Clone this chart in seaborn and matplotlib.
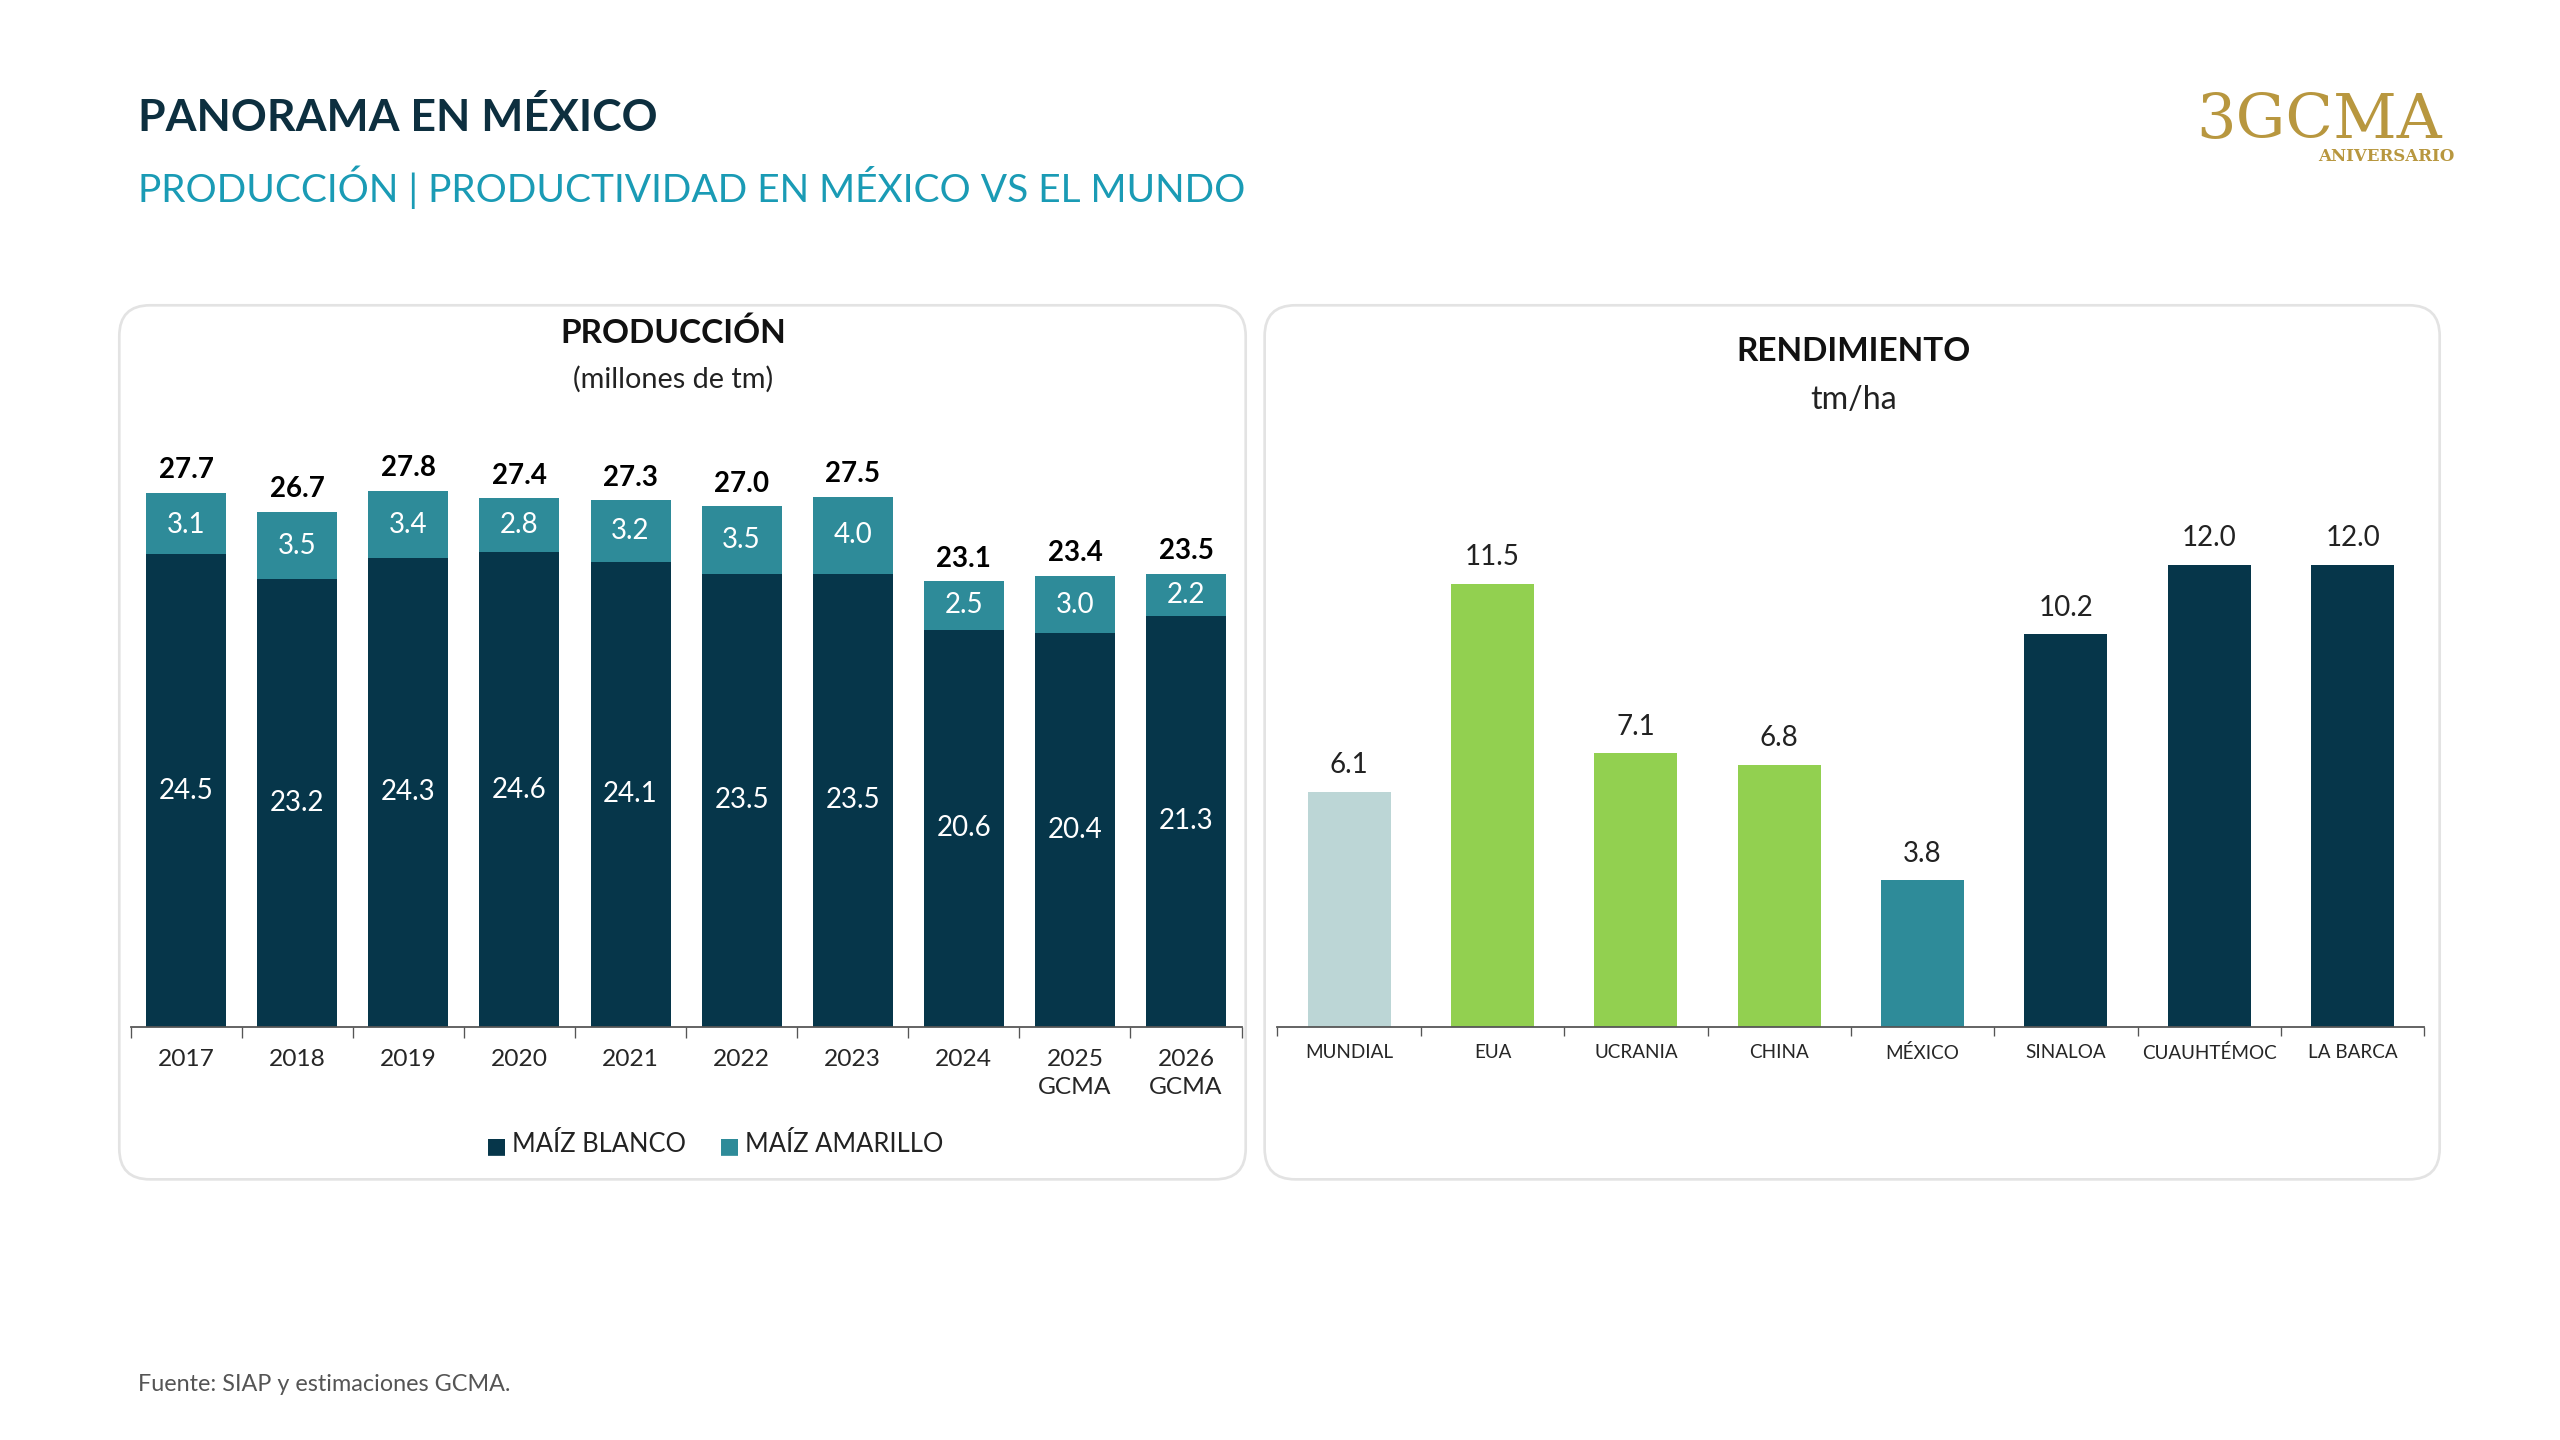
import pandas as pd
import matplotlib.pyplot as plt
import seaborn as sns
from matplotlib.patches import FancyBboxPatch

sns.set_style('white')
plt.rcParams['font.family'] = ['Lato', 'DejaVu Sans']

AZUL = '#06364a'
TEAL = '#2e8b99'
CLARO = '#bcd6d6'
VERDE = '#92d050'

# datos de produccion (millones de tm)
prod = pd.DataFrame({
    'Anio': ['2017', '2018', '2019', '2020', '2021', '2022', '2023', '2024', '2025\nGCMA', '2026\nGCMA'],
    'Blanco': [24.5, 23.2, 24.3, 24.6, 24.1, 23.5, 23.5, 20.6, 20.4, 21.3],
    'Amarillo': [3.1, 3.5, 3.4, 2.8, 3.2, 3.5, 4.0, 2.5, 3.0, 2.2],
    'Total': [27.7, 26.7, 27.8, 27.4, 27.3, 27.0, 27.5, 23.1, 23.4, 23.5],
})

# rendimiento tm/ha
rend = pd.DataFrame({
    'Region': ['MUNDIAL', 'EUA', 'UCRANIA', 'CHINA', 'MÉXICO', 'SINALOA', 'CUAUHTÉMOC', 'LA BARCA'],
    'Valor': [6.1, 11.5, 7.1, 6.8, 3.8, 10.2, 12.0, 12.0],
})
colores = [CLARO, VERDE, VERDE, VERDE, TEAL, AZUL, AZUL, AZUL]

fig = plt.figure(figsize=(16, 9), dpi=160)

# paneles con bordes redondeados
for x0, w in [(0.0466, 0.440), (0.494, 0.459)]:
    caja = FancyBboxPatch((x0, 0.181), w, 0.607, boxstyle='round,pad=0,rounding_size=0.012',
                          transform=fig.transFigure, facecolor='white', edgecolor='#e3e3e3',
                          linewidth=1.2, mutation_aspect=16 / 9, zorder=-1)
    fig.patches.append(caja)

fig.text(0.054, 0.909, 'PANORAMA EN MÉXICO', fontsize=20, fontweight='bold', color='#0d2f3f')
fig.text(0.054, 0.860, 'PRODUCCIÓN | PRODUCTIVIDAD EN MÉXICO VS EL MUNDO', fontsize=17.5, color='#1a9bb5')
fig.text(0.054, 0.034, 'Fuente: SIAP y estimaciones GCMA.', fontsize=10.5, color='#555555')
fig.text(0.906, 0.905, '3GCMA', fontsize=28, color='#b8973f', ha='center', family='DejaVu Serif')
fig.text(0.932, 0.888, 'ANIVERSARIO', fontsize=7.5, color='#b8973f', ha='center',
         fontweight='bold', family='DejaVu Serif')

# 1. Produccion (barras apiladas)
ax1 = fig.add_axes([0.051, 0.287, 0.434, 0.407], zorder=2)
ax1.patch.set_visible(False)
sns.barplot(data=prod, x='Anio', y='Total', color=TEAL, width=0.72, saturation=1, linewidth=0, ax=ax1)
sns.barplot(data=prod, x='Anio', y='Blanco', color=AZUL, width=0.72, saturation=1, linewidth=0, ax=ax1)
ax1.set_ylim(0, 30.4)
ax1.set_xlim(-0.5, len(prod) - 0.5)
for i, row in prod.iterrows():
    ax1.text(i, row['Blanco'] / 2, f"{row['Blanco']:.1f}", ha='center', va='center', color='white', fontsize=12.5)
    ax1.text(i, row['Blanco'] + row['Amarillo'] / 2, f"{row['Amarillo']:.1f}", ha='center', va='center',
             color='white', fontsize=12.5)
    ax1.text(i, row['Total'] + 0.5, f"{row['Total']:.1f}", ha='center', va='bottom', color='black',
             fontsize=12.5, fontweight='bold')
ax1.set_xlabel('')
ax1.set_ylabel('')
ax1.set_yticks([])
ax1.set_xticks([i - 0.5 for i in range(len(prod) + 1)], minor=True)
ax1.tick_params(axis='x', which='major', length=0, labelsize=11, pad=10)
for t in ax1.get_xticklabels():
    t.set_linespacing(1.4)
ax1.tick_params(axis='x', which='minor', length=5, bottom=True, color='#555555')
for lado in ['top', 'right', 'left']:
    ax1.spines[lado].set_visible(False)
ax1.spines['bottom'].set_color('#555555')
fig.text(0.263, 0.762, 'PRODUCCIÓN', fontsize=15, fontweight='bold', ha='center', color='#111111')
fig.text(0.263, 0.731, '(millones de tm)', fontsize=13, ha='center', color='#222222')
fig.text(0.190, 0.200, '■', fontsize=10, color=AZUL)
fig.text(0.2, 0.200, 'MAÍZ BLANCO', fontsize=11.5, color='#222222')
fig.text(0.281, 0.200, '■', fontsize=10, color=TEAL)
fig.text(0.291, 0.200, 'MAÍZ AMARILLO', fontsize=11.5, color='#222222')

# 2. Rendimiento
ax2 = fig.add_axes([0.499, 0.287, 0.448, 0.385], zorder=2)
ax2.patch.set_visible(False)
sns.barplot(data=rend, x='Region', y='Valor', hue='Region', palette=colores, legend=False,
            width=0.58, saturation=1, linewidth=0, ax=ax2)
ax2.set_ylim(0, 14.4)
ax2.set_xlim(-0.5, len(rend) - 0.5)
for i, v in enumerate(rend['Valor']):
    ax2.text(i, v + 0.35, f'{v:.1f}', ha='center', va='bottom', fontsize=12.5, color='#222222')
ax2.set_xlabel('')
ax2.set_ylabel('')
ax2.set_yticks([])
ax2.set_xticks([i - 0.5 for i in range(len(rend) + 1)], minor=True)
ax2.tick_params(axis='x', which='major', length=0, labelsize=8.5, pad=8)
ax2.tick_params(axis='x', which='minor', length=4, bottom=True, color='#555555')
for lado in ['top', 'right', 'left']:
    ax2.spines[lado].set_visible(False)
ax2.spines['bottom'].set_color('#555555')
fig.text(0.724, 0.749, 'RENDIMIENTO', fontsize=15, fontweight='bold', ha='center', color='#111111')
fig.text(0.724, 0.716, 'tm/ha', fontsize=14.5, ha='center', color='#222222')

plt.savefig('out.png', dpi=160)
plt.close()
